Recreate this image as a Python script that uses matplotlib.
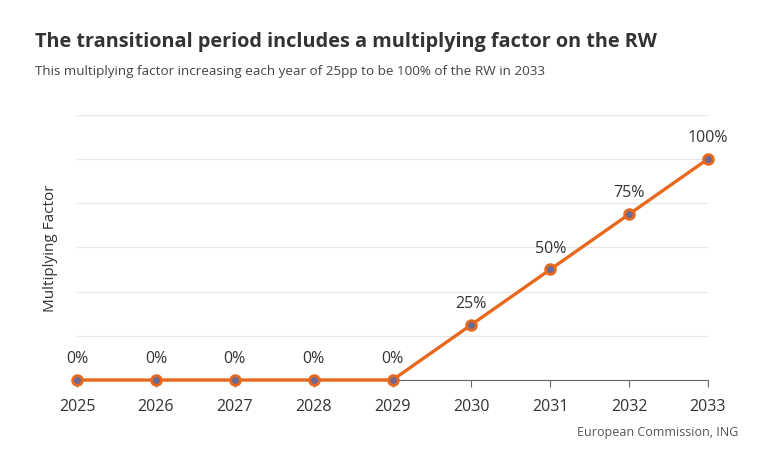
import matplotlib.pyplot as plt

years = [2025, 2026, 2027, 2028, 2029, 2030, 2031, 2032, 2033]
factor = [0, 0, 0, 0, 0, 25, 50, 75, 100]
labels = ['0%', '0%', '0%', '0%', '0%', '25%', '50%', '75%', '100%']

plt.rcParams['font.family'] = ['Open Sans', 'DejaVu Sans']

fig = plt.figure(figsize=(7.68, 4.64), dpi=100)
ax = fig.add_axes([77/768, 1 - 381/464, (708-77)/768, (381-115.7)/464])

orange = '#E8691E'
ax.plot(years, factor, color=orange, linewidth=2.4, zorder=3,
        marker='o', markersize=7, markerfacecolor='#6C6A94',
        markeredgecolor=orange, markeredgewidth=2, clip_on=False)

for x, y, t in zip(years, factor, labels):
    ax.annotate(t, (x, y), xytext=(0, 10), textcoords='offset points',
                ha='center', va='bottom', fontsize=11.5, color='#333333')

ax.set_xlim(2025, 2033)
ax.set_ylim(0, 120)
ax.set_xticks(years)
ax.set_yticks(range(0, 121, 20))
ax.set_yticklabels([])
ax.tick_params(axis='y', length=0)
ax.tick_params(axis='x', length=5, color='#666666', labelsize=11.5,
               labelcolor='#333333', pad=8)
ax.grid(axis='y', color='#E6E6E6', linewidth=0.8)
ax.set_axisbelow(True)
for s in ['top', 'right', 'left']:
    ax.spines[s].set_visible(False)
ax.spines['bottom'].set_color('#666666')
ax.set_ylabel('Multiplying Factor', fontsize=11, color='#333333', labelpad=10)

fig.text(35/768, 1 - 42/464, 'The transitional period includes a multiplying factor on the RW',
         fontsize=14.3, fontweight='bold', color='#333333', va='center')
fig.text(35/768, 1 - 72/464, 'This multiplying factor increasing each year of 25pp to be 100% of the RW in 2033',
         fontsize=9.7, color='#444444', va='center')
fig.text(738/768, 1 - 433/464, 'European Commission, ING',
         fontsize=9, color='#555555', ha='right', va='center')

fig.savefig('out.png', dpi=100, facecolor='white')
